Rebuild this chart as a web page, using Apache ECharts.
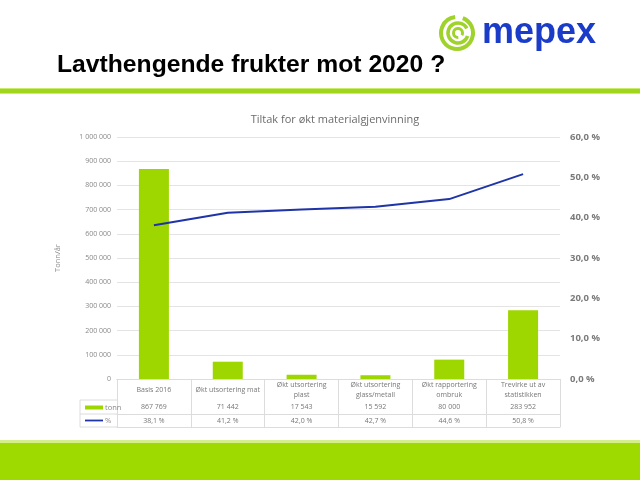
<!DOCTYPE html>
<html><head><meta charset="utf-8">
<script src="https://cdn.jsdelivr.net/npm/echarts@6/dist/echarts.min.js"></script>
<style>html,body{margin:0;padding:0;background:#fff}#c{width:640px;height:480px}</style>
</head><body><div id="c"></div>
<script>
var categories = ['Basis 2016', 'Økt utsortering mat', 'Økt utsortering\nplast', 'Økt utsortering\nglass/metall', 'Økt rapportering\nombruk', 'Trevirke ut av\nstatistikken'];
var tonn = [867769, 71442, 17543, 15592, 80000, 283952];
var pct = [38.1, 41.2, 42.0, 42.7, 44.6, 50.8];
var leftTicks = {min: 0, max: 1000000, interval: 100000};
var rightTicks = {min: 0, max: 60, interval: 10};

function fmtThousands(v){ return String(Math.round(v)).replace(/\B(?=(\d{3})+(?!\d))/g, ' '); }
function fmtPct(v){ return v.toFixed(1).replace('.', ',') + ' %'; }

var GREEN = '#9ed600', BLUE = '#1f34a6', GRID = '#e4e4e4';
var F = 'Open Sans';
var chart = echarts.init(document.getElementById('c'), null, {renderer: 'canvas'});

var tableLine = {show: true, lineStyle: {color: '#dcdcdc', width: 1}};
chart.setOption({
  backgroundColor: '#fff',
  animation: false,
  textStyle: {fontFamily: F},
  title: {text: 'Tiltak for økt materialgjenvinning', left: 330, textAlign: 'center', top: 109,
    textStyle: {fontSize: 11, fontWeight: 'normal', color: '#6b6b6b', fontFamily: F}},
  legend: {orient: 'vertical', left: 80, top: 398, itemWidth: 18, itemHeight: 4, itemGap: 4,
    textStyle: {fontSize: 7.5, color: '#888', fontFamily: F, padding: [0,0,0,-3], lineHeight: 9},
    data: [{name: 'tonn', icon: 'rect'}, {name: '%', icon: 'path://M0,0M0,4M0,1H20V3H0Z'}]},
  grid: {left: 117, right: 80, top: 137, bottom: 101},
  xAxis: [
    {type: 'category', data: categories, position: 'bottom',
      axisLine: tableLine, axisTick: {show: true, length: 48, lineStyle: {color: '#dcdcdc'}},
      axisLabel: {fontSize: 7, color: '#777', margin: 11, verticalAlign: 'middle', lineHeight: 10, fontFamily: F, interval: 0}},
    {type: 'category', data: tonn.map(fmtThousands), position: 'bottom', offset: 21,
      axisLine: tableLine, axisTick: {show: false},
      axisLabel: {fontSize: 7, color: '#777', margin: 7, verticalAlign: 'middle', fontFamily: F, interval: 0}},
    {type: 'category', data: pct.map(fmtPct), position: 'bottom', offset: 35,
      axisLine: tableLine, axisTick: {show: false},
      axisLabel: {fontSize: 7, color: '#777', margin: 7, verticalAlign: 'middle', fontFamily: F, interval: 0}},
    {type: 'category', data: categories, position: 'bottom', offset: 48,
      axisLine: tableLine, axisTick: {show: false}, axisLabel: {show: false}}
  ],
  yAxis: [
    {type: 'value', min: leftTicks.min, max: leftTicks.max, interval: leftTicks.interval,
      name: 'Tonn/år', nameLocation: 'middle', nameGap: 55, nameRotate: 90,
      nameTextStyle: {fontSize: 7.5, color: '#888', fontFamily: F},
      axisLine: {show: false}, axisTick: {show: false},
      splitLine: {lineStyle: {color: GRID}},
      axisLabel: {fontSize: 7, color: '#888', margin: 6, formatter: fmtThousands, fontFamily: F}},
    {type: 'value', min: rightTicks.min, max: rightTicks.max, interval: rightTicks.interval,
      axisLine: {show: false}, axisTick: {show: false}, splitLine: {show: false},
      axisLabel: {fontSize: 9.5, fontWeight: 'bold', color: '#7a7a7a', margin: 10, fontFamily: F,
        formatter: function(v){ return fmtPct(v); }}}
  ],
  series: [
    {name: 'tonn', type: 'bar', data: tonn, barWidth: 30, itemStyle: {color: GREEN}, xAxisIndex: 0, yAxisIndex: 0},
    {name: '%', type: 'line', data: pct, yAxisIndex: 1, xAxisIndex: 0, symbol: 'none',
      lineStyle: {color: BLUE, width: 2}, itemStyle: {color: BLUE}}
  ],
  graphic: [
    {type: 'text', left: 57, top: 53, style: {text: 'Lavthengende frukter mot 2020 ?', font: 'bold 24.7px "Liberation Sans", Arial, sans-serif', fill: '#000'}},
    {type: 'rect', shape: {x: 0, y: 88, width: 640, height: 6}, style: {fill: '#c9ec6e'}},
    {type: 'rect', shape: {x: 0, y: 89, width: 640, height: 4}, style: {fill: '#a2d61a'}},
    {type: 'rect', shape: {x: 0, y: 440, width: 640, height: 3}, style: {fill: '#d4ef8a'}},
    {type: 'rect', shape: {x: 0, y: 443, width: 640, height: 37}, style: {fill: '#9ed900'}},
    {type: 'line', shape: {x1: 80, y1: 400, x2: 117, y2: 400}, style: {stroke: '#dcdcdc', lineWidth: 1}},
    {type: 'line', shape: {x1: 80, y1: 414, x2: 117, y2: 414}, style: {stroke: '#dcdcdc', lineWidth: 1}},
    {type: 'line', shape: {x1: 80, y1: 427, x2: 117, y2: 427}, style: {stroke: '#dcdcdc', lineWidth: 1}},
    {type: 'line', shape: {x1: 80, y1: 400, x2: 80, y2: 427}, style: {stroke: '#dcdcdc', lineWidth: 1}},
    {type: 'arc', shape: {cx: 457, cy: 33, r: 16, startAngle: -1.2, endAngle: 4.6}, style: {stroke: '#9fd22a', lineWidth: 4, fill: null}},
    {type: 'arc', shape: {cx: 458, cy: 33, r: 10, startAngle: 0.3, endAngle: 5.8}, style: {stroke: '#9fd22a', lineWidth: 3.5, fill: null}},
    {type: 'arc', shape: {cx: 458, cy: 33, r: 4.5, startAngle: 1.5, endAngle: 6.8}, style: {stroke: '#9fd22a', lineWidth: 3, fill: null}},
    {type: 'text', left: 482, top: 15, style: {text: 'mepex', font: 'bold 36px "Liberation Sans", Arial, sans-serif', fill: '#1a3cc9'}}
  ]
});
</script></body></html>
